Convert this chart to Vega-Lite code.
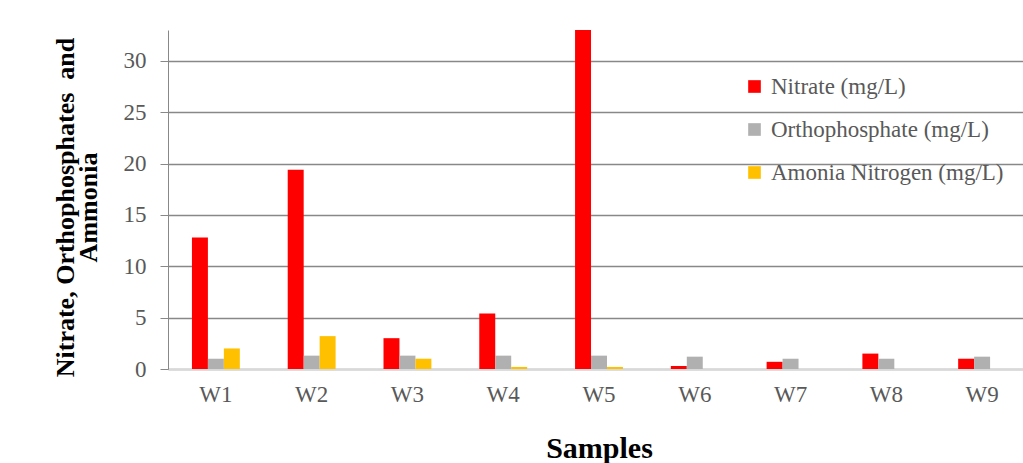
{
  "$schema": "https://vega.github.io/schema/vega-lite/v6.json",
  "autosize": "none",
  "width": 862,
  "height": 339,
  "padding": {"left": 168, "top": 30, "right": 0, "bottom": 94},
  "background": "white",
  "config": {
    "font": "Liberation Serif",
    "view": {"stroke": null}
  },
  "data": {
    "values": [
      {"sample": "W1", "series": "Nitrate (mg/L)", "value": 12.8},
      {"sample": "W1", "series": "Orthophosphate (mg/L)", "value": 1.0},
      {"sample": "W1", "series": "Amonia Nitrogen (mg/L)", "value": 2.0},
      {"sample": "W2", "series": "Nitrate (mg/L)", "value": 19.4},
      {"sample": "W2", "series": "Orthophosphate (mg/L)", "value": 1.3},
      {"sample": "W2", "series": "Amonia Nitrogen (mg/L)", "value": 3.2},
      {"sample": "W3", "series": "Nitrate (mg/L)", "value": 3.0},
      {"sample": "W3", "series": "Orthophosphate (mg/L)", "value": 1.3},
      {"sample": "W3", "series": "Amonia Nitrogen (mg/L)", "value": 1.0},
      {"sample": "W4", "series": "Nitrate (mg/L)", "value": 5.4},
      {"sample": "W4", "series": "Orthophosphate (mg/L)", "value": 1.3},
      {"sample": "W4", "series": "Amonia Nitrogen (mg/L)", "value": 0.2},
      {"sample": "W5", "series": "Nitrate (mg/L)", "value": 33},
      {"sample": "W5", "series": "Orthophosphate (mg/L)", "value": 1.3},
      {"sample": "W5", "series": "Amonia Nitrogen (mg/L)", "value": 0.2},
      {"sample": "W6", "series": "Nitrate (mg/L)", "value": 0.3},
      {"sample": "W6", "series": "Orthophosphate (mg/L)", "value": 1.2},
      {"sample": "W6", "series": "Amonia Nitrogen (mg/L)", "value": 0},
      {"sample": "W7", "series": "Nitrate (mg/L)", "value": 0.7},
      {"sample": "W7", "series": "Orthophosphate (mg/L)", "value": 1.0},
      {"sample": "W7", "series": "Amonia Nitrogen (mg/L)", "value": 0},
      {"sample": "W8", "series": "Nitrate (mg/L)", "value": 1.5},
      {"sample": "W8", "series": "Orthophosphate (mg/L)", "value": 1.0},
      {"sample": "W8", "series": "Amonia Nitrogen (mg/L)", "value": 0},
      {"sample": "W9", "series": "Nitrate (mg/L)", "value": 1.0},
      {"sample": "W9", "series": "Orthophosphate (mg/L)", "value": 1.2},
      {"sample": "W9", "series": "Amonia Nitrogen (mg/L)", "value": 0}
    ]
  },
  "mark": {"type": "bar", "clip": true},
  "encoding": {
    "x": {
      "field": "sample",
      "type": "nominal",
      "scale": {"paddingInner": 0.5, "paddingOuter": 0.25},
      "axis": {
        "title": "Samples",
        "labelAngle": 0,
        "labelFontSize": 23,
        "labelColor": "#595959",
        "labelPadding": 14,
        "ticks": false,
        "domainColor": "#d9d9d9",
        "domainWidth": 2,
        "titleFontSize": 30,
        "titleFontWeight": "bold",
        "titleColor": "#000000",
        "titlePadding": 27
      }
    },
    "xOffset": {
      "field": "series",
      "type": "nominal",
      "sort": ["Nitrate (mg/L)", "Orthophosphate (mg/L)", "Amonia Nitrogen (mg/L)"],
      "scale": {"paddingInner": 0, "paddingOuter": 0}
    },
    "y": {
      "field": "value",
      "type": "quantitative",
      "scale": {"domain": [0, 33], "nice": false},
      "axis": {
        "values": [0, 5, 10, 15, 20, 25, 30],
        "title": ["Nitrate, Orthophosphates\u00a0\u00a0and", "Ammonia"],
        "titleFontSize": 26,
        "titleFontWeight": "bold",
        "titleColor": "#000000",
        "titlePadding": 22,
        "titleLineHeight": 23,
        "titleY": 177,
        "labelFontSize": 23,
        "labelColor": "#595959",
        "labelPadding": 14,
        "tickSize": 8,
        "tickColor": "#888888",
        "domainColor": "#888888",
        "gridColor": "#888888",
        "gridWidth": 1.5,
        "grid": true
      }
    },
    "color": {
      "field": "series",
      "type": "nominal",
      "sort": ["Nitrate (mg/L)", "Orthophosphate (mg/L)", "Amonia Nitrogen (mg/L)"],
      "scale": {
        "domain": ["Nitrate (mg/L)", "Orthophosphate (mg/L)", "Amonia Nitrogen (mg/L)"],
        "range": ["#ff0000", "#b0b0b0", "#ffc000"]
      },
      "legend": {
        "title": null,
        "orient": "none",
        "legendX": 575,
        "legendY": 45,
        "symbolType": "square",
        "symbolSize": 160,
        "symbolStrokeWidth": 0,
        "labelFontSize": 23,
        "labelColor": "#595959",
        "labelLimit": 400,
        "rowPadding": 19,
        "labelOffset": 5
      }
    }
  }
}
